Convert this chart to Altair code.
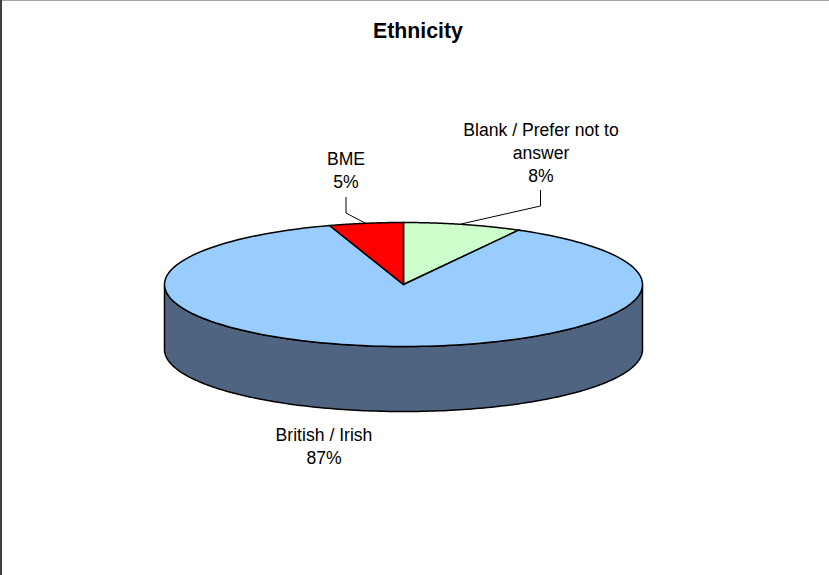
import numpy as np
import altair as alt

# Survey shares, clockwise from twelve o'clock
categories = ["Blank / Prefer not to\nanswer", "British / Irish", "BME"]
shares = [8, 87, 5]
title = "Ethnicity"

# Colours
top_colors = ["#CCFFCC", "#99CCFF", "#FF0000"]
side_color = "#4F6480"

# Pie geometry in canvas pixels
W, H = 829, 575
CX, CY, RX, RY, DEPTH = 403.5, 284.5, 239.0, 62.0, 65.0
FONT = "Liberation Sans"


def rim(start, end, n=180, drop=0.0):
    """Points on the ellipse between two angles, in degrees clockwise from the top."""
    a = np.radians(np.linspace(start, end, n))
    return [[float(CX + RX * np.sin(t)), float(CY - RY * np.cos(t) + drop)] for t in a]


def feature(name, ring):
    return {
        "type": "Feature",
        "properties": {"name": name},
        "geometry": {"type": "Polygon", "coordinates": [ring + [ring[0]]]},
    }


# Wedges on the top face
wedges = []
start = 0.0
for cat, share in zip(categories, shares):
    end = start + share * 3.6
    wedges.append(feature(cat, [[CX, CY]] + rim(start, end)))
    start = end

# Visible wall of the drum: front half of the rim and its lower copy
wall = feature("wall", rim(90, 270) + rim(270, 90, drop=DEPTH))

projection = dict(type="identity", scale=1, translate=[0, 0])
xpos = alt.X("x:Q", scale=alt.Scale(domain=[0, W]), axis=None)
ypos = alt.Y("y:Q", scale=alt.Scale(domain=[H, 0]), axis=None)

wall_layer = (
    alt.Chart(alt.Data(values=[wall]))
    .mark_geoshape(fill=side_color, stroke="#000000", strokeWidth=1.5)
    .project(**projection)
)

wedge_layer = (
    alt.Chart(alt.Data(values=wedges))
    .mark_geoshape(stroke="#000000", strokeWidth=1.5)
    .encode(
        color=alt.Color(
            "properties.name:N",
            scale=alt.Scale(domain=categories, range=top_colors),
            legend=None,
        )
    )
    .project(**projection)
)

# Leader lines from the labels to the rim
leaders = [
    {"id": "bme", "o": 0, "x": 346, "y": 197},
    {"id": "bme", "o": 1, "x": 346, "y": 213},
    {"id": "bme", "o": 2, "x": 365, "y": 223},
    {"id": "blank", "o": 0, "x": 540.5, "y": 190},
    {"id": "blank", "o": 1, "x": 540.5, "y": 206},
    {"id": "blank", "o": 2, "x": 461, "y": 224},
]
leader_layer = (
    alt.Chart(alt.Data(values=leaders))
    .mark_line(color="#000000", strokeWidth=1)
    .encode(x=xpos, y=ypos, detail="id:N", order="o:Q")
)

# Category labels with their percentages
label_anchor = {categories[0]: (541, 122), categories[1]: (324, 427), categories[2]: (346, 151)}
labels = [
    {"x": label_anchor[c][0], "y": label_anchor[c][1], "text": f"{c}\n{s}%"}
    for c, s in zip(categories, shares)
]
label_layer = (
    alt.Chart(alt.Data(values=labels))
    .mark_text(font=FONT, fontSize=17.6, color="#000000", align="center",
               baseline="top", lineBreak="\n", lineHeight=23)
    .encode(x=xpos, y=ypos, text="text:N")
)

title_layer = (
    alt.Chart(alt.Data(values=[{"x": 418, "y": 32, "text": title}]))
    .mark_text(font=FONT, fontSize=21.3, fontWeight="bold", color="#000000",
               align="center", baseline="middle")
    .encode(x=xpos, y=ypos, text="text:N")
)

# Frame edges along the top and left of the canvas
frame_top = (
    alt.Chart(alt.Data(values=[{"x": 0, "x2": W, "y": 0.5}]))
    .mark_rule(color="#A6A6A6", strokeWidth=1)
    .encode(x=xpos, x2="x2:Q", y=ypos)
)
frame_left = (
    alt.Chart(alt.Data(values=[{"x": 1, "y": 0, "y2": H}]))
    .mark_rule(color="#404040", strokeWidth=2)
    .encode(x=xpos, y=ypos, y2="y2:Q")
)

chart = (
    alt.layer(wall_layer, wedge_layer, leader_layer, label_layer, title_layer, frame_top, frame_left)
    .properties(width=W, height=H, padding=0, autosize=alt.AutoSizeParams(type="none"),
                background="#FFFFFF")
    .configure_view(stroke=None)
)

chart.save("out.html", embed_options={"renderer": "svg", "actions": False})
